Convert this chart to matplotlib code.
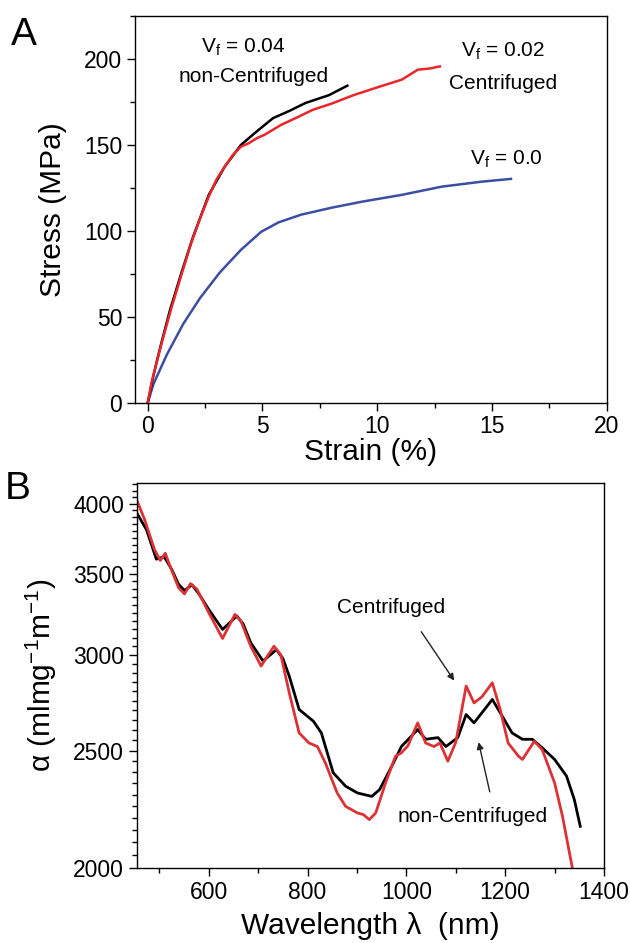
import matplotlib
matplotlib.use("Agg")
import matplotlib.pyplot as plt
from matplotlib.ticker import FixedLocator, NullFormatter, MultipleLocator

plt.rcParams['font.family'] = ['Liberation Sans', 'DejaVu Sans']
plt.rcParams['mathtext.default'] = 'regular'

# --- panel A: stress-strain ---
strain_c = [0, 0.17, 0.61, 1.05, 1.48, 1.87, 2.3, 2.66, 3.0, 3.36, 3.7, 4.06, 4.4, 4.76, 5.1, 5.81,
            6.5, 7.2, 8.0, 8.97, 10.0, 11.07, 11.77, 12.3, 12.73]
stress_c = [0, 12, 35, 56, 75, 92, 108, 120, 130, 137.5, 144, 149, 151, 154, 156, 161.7,
            166, 170.5, 174, 179, 183.5, 188, 193.8, 194.5, 195.7]

strain_n = [0, 0.25, 0.54, 0.97, 1.5, 1.96, 2.66, 3.36, 4.06, 4.76, 5.46, 6.2, 6.87, 7.9, 8.7]
stress_n = [0, 16, 32, 54, 77, 96, 121, 137.5, 150, 158, 165.6, 170, 174.4, 179, 184.5]

strain_0 = [0, 0.25, 0.83, 1.55, 2.28, 3.15, 4.06, 4.94, 5.7, 6.69, 8.0, 9.32, 11.07, 12.82, 14.57, 15.83]
stress_0 = [0, 11, 28, 46, 61, 76, 89, 99.5, 105, 109.5, 113.5, 117, 121, 125.8, 128.7, 130.3]

# --- panel B: absorption spectra ---
wl_c = [454, 470, 490, 502, 512, 523, 539, 551, 563, 576, 600, 628, 653, 665, 685, 706, 732, 746,
        763, 783, 803, 820, 836, 860, 877, 901, 913, 925, 938, 958, 978, 990, 1003, 1023, 1039,
        1056, 1068, 1084, 1100, 1121, 1137, 1153, 1174, 1190, 1206, 1227, 1235, 1259, 1275, 1300,
        1316, 1336]
alpha_c = [4030, 3883, 3667, 3590, 3640, 3540, 3409, 3369, 3435, 3400, 3251, 3095, 3240, 3200, 3050,
           2937, 3050, 3000, 2791, 2586, 2537, 2520, 2443, 2307, 2249, 2221, 2214, 2193, 2221, 2352,
           2474, 2490, 2523, 2636, 2537, 2520, 2537, 2451, 2540, 2827, 2738, 2770, 2845, 2704, 2537,
           2474, 2459, 2545, 2505, 2352, 2207, 2000]

wl_n = [454, 474, 494, 510, 525, 539, 551, 566, 580, 600, 628, 657, 670, 685, 710, 737, 750, 763,
        783, 812, 828, 852, 877, 901, 930, 946, 974, 990, 1023, 1039, 1064, 1080, 1104, 1121, 1137,
        1174, 1194, 1214, 1235, 1255, 1275, 1300, 1324, 1340, 1352]
alpha_n = [3932, 3807, 3599, 3615, 3530, 3431, 3390, 3428, 3370, 3271, 3149, 3230, 3180, 3070, 2965,
           3030, 2980, 2881, 2704, 2644, 2586, 2397, 2337, 2307, 2292, 2322, 2443, 2520, 2603, 2555,
           2563, 2520, 2563, 2678, 2636, 2756, 2670, 2586, 2555, 2555, 2514, 2459, 2383, 2278, 2165]

a_yticks = [0, 50, 100, 150, 200]
a_xticks = [0, 5, 10, 15, 20]
b_yticks = [2000, 2500, 3000, 3500, 4000]
b_xticks = [600, 800, 1000, 1200, 1400]

fig = plt.figure(figsize=(6.3, 9.43), dpi=100)

def style(ax):
    ax.tick_params(which='both', direction='out', top=False, right=False, width=1.0)
    ax.tick_params(which='major', length=6, labelsize=16.5, pad=3)
    ax.tick_params(which='minor', length=3.5)
    for s in ax.spines.values():
        s.set_linewidth(1.0)

# panel A
ax1 = fig.add_axes([0.2137, 0.5727, 0.7493, 0.4103])
ax1.plot(strain_0, stress_0, color='#3b4ea3', lw=1.8)
ax1.plot(strain_n, stress_n, color='black', lw=1.8)
ax1.plot(strain_c, stress_c, color='#e8262b', lw=1.8)
ax1.set_xlim(-0.57, 20)
ax1.set_ylim(0, 225)
ax1.set_xticks(a_xticks)
ax1.set_yticks(a_yticks)
ax1.xaxis.set_minor_locator(MultipleLocator(2.5))
ax1.yaxis.set_minor_locator(MultipleLocator(25))
style(ax1)
ax1.set_xlabel('Strain (%)', fontsize=21.5, labelpad=0)
ax1.set_ylabel('Stress (MPa)', fontsize=21.5, labelpad=12)
ax1.text(4.15, 207, 'V$_f$ = 0.04', ha='center', va='center', fontsize=15)
ax1.text(4.6, 190, 'non-Centrifuged', ha='center', va='center', fontsize=15)
ax1.text(15.5, 204.5, 'V$_f$ = 0.02', ha='center', va='center', fontsize=15)
ax1.text(15.5, 186, 'Centrifuged', ha='center', va='center', fontsize=15)
ax1.text(15.65, 141.7, 'V$_f$ = 0.0', ha='center', va='center', fontsize=15)

# panel B
ax2 = fig.add_axes([0.2168, 0.0795, 0.7419, 0.4083])
ax2.plot(wl_n, alpha_n, color='black', lw=2.0)
ax2.plot(wl_c, alpha_c, color='#dc3236', lw=2.0)
ax2.set_yscale('log')
ax2.set_xlim(454, 1400)
ax2.set_ylim(2000, 4160)
ax2.yaxis.set_major_locator(FixedLocator(b_yticks))
ax2.yaxis.set_major_formatter(plt.FixedFormatter([str(v) for v in b_yticks]))
ax2.yaxis.set_minor_locator(FixedLocator([v for v in range(2050, 4200, 50) if v % 500]))
ax2.yaxis.set_minor_formatter(NullFormatter())
ax2.set_xticks(b_xticks)
ax2.xaxis.set_minor_locator(MultipleLocator(100))
style(ax2)
ax2.set_xlabel('Wavelength λ  (nm)', fontsize=21.5, labelpad=6)
ax2.set_ylabel('α (mlmg$^{-1}$m$^{-1}$)', fontsize=21.5, labelpad=10)
ax2.text(970, 3281, 'Centrifuged', ha='center', va='center', fontsize=15)
ax2.text(1135, 2207, 'non-Centrifuged', ha='center', va='center', fontsize=15)
ax2.annotate('', xy=(1100, 2844), xytext=(1027, 3149),
             arrowprops=dict(arrowstyle='-|>', color='#222222', lw=1.0, mutation_scale=10))
ax2.annotate('', xy=(1145, 2554), xytext=(1170, 2300),
             arrowprops=dict(arrowstyle='-|>', color='#222222', lw=1.0, mutation_scale=10))

fig.text(0.018, 0.982, 'A', fontsize=28, va='top', ha='left')
fig.text(0.008, 0.501, 'B', fontsize=28, va='top', ha='left')

fig.savefig('out.png', dpi=100)
